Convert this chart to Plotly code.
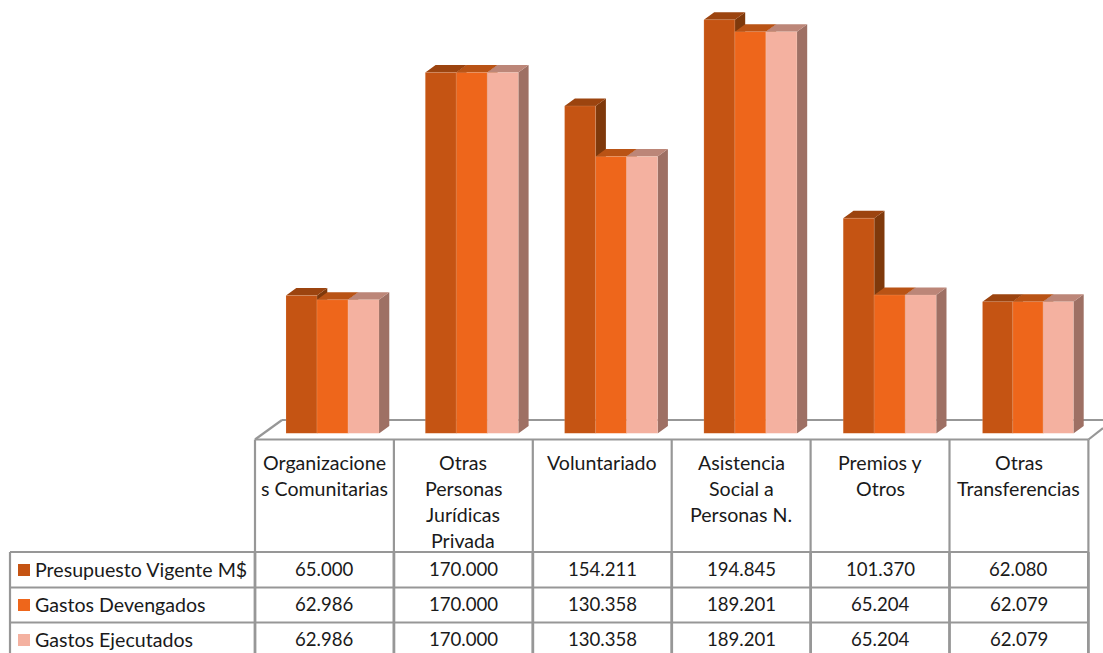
import plotly.graph_objects as go

categories = ["Organizacione<br>s Comunitarias", "Otras<br>Personas<br>Jurídicas<br>Privada", "Voluntariado",
              "Asistencia<br>Social a<br>Personas N.", "Premios y<br>Otros", "Otras<br>Transferencias"]
series_names = ["Presupuesto Vigente M$", "Gastos Devengados", "Gastos Ejecutados"]
presupuesto = [65000, 170000, 154211, 194845, 101370, 62080]
devengados = [62986, 170000, 130358, 189201, 65204, 62079]
ejecutados = [62986, 170000, 130358, 189201, 65204, 62079]
all_series = [presupuesto, devengados, ejecutados]

front_colors = ["#C55413", "#EE661B", "#F4B1A0"]
top_colors = ["#9C440F", "#B95315", "#BC8678"]
side_colors = ["#7F390B", "#A34A12", "#9E7064"]

W, H = 1103, 653
FONT = "Lato"
GRID = "#979797"
FS_LABEL = 19.6
FS_NUM = 18.6

def px(x): return x / W
def py(y): return 1 - y / H

step = 139.3
base_y, top_y = 433.5, 8.7
y_max = 200000
unit = (base_y - top_y) / y_max
left = 332.5 - step / 2
right = left + 6 * step
bar_w = 31 / step
bar_widths = [bar_w] * 5 + [30.3 / step]
depth_x = 10.3 / step
depth_y = 7.5 / unit

fig = go.Figure()

# depth faces of the 3-D columns, computed from the data values
for s, vals in enumerate(all_series):
    sx, sy, tx, ty = [], [], [], []
    for j, v in enumerate(vals):
        x0 = j - 1.5 * bar_w + s * bar_widths[j]
        x1 = x0 + bar_widths[j]
        sx += [x1, x1 + depth_x, x1 + depth_x, x1, x1, None]
        sy += [0, depth_y, v + depth_y, v, 0, None]
        tx += [x0, x0 + depth_x, x1 + depth_x, x1, x0, None]
        ty += [v, v + depth_y, v + depth_y, v, v, None]
    for xs, ys, col in ((sx, sy, side_colors[s]), (tx, ty, top_colors[s])):
        fig.add_trace(go.Scatter(x=xs, y=ys, mode="lines", fill="toself", fillcolor=col,
                                 line=dict(width=0, color=col), hoverinfo="skip", showlegend=False,
                                 xaxis="x", yaxis="y"))

# front faces
for s, (name, vals, col) in enumerate(zip(series_names, all_series, front_colors)):
    fig.add_trace(go.Bar(x=categories, y=vals, name=name,
                         width=bar_widths,
                         offset=[-1.5 * bar_w + s * w for w in bar_widths],
                         marker=dict(color=col, line=dict(width=0.5, color="rgba(255,225,205,0.3)")),
                         showlegend=False, xaxis="x2", yaxis="y2"))

ax_common = dict(domain=[px(left), px(right)], range=[-0.5, 5.5], visible=False, fixedrange=True)
ay_common = dict(domain=[py(base_y), py(top_y)], range=[0, y_max], visible=False, fixedrange=True)

shapes = []
def line(x0, y0, x1, y1, w=2.2):
    shapes.append(dict(type="line", xref="paper", yref="paper", x0=px(x0), y0=py(y0), x1=px(x1), y1=py(y1),
                       line=dict(color=GRID, width=w), layer="below"))

# floor
line(255, 439.5, 282, 420)
line(282, 420, 1103, 420)
line(255, 439.5, 1088.5, 439.5)
line(1088.5, 439.5, 1103, 428)

# data table grid
cols = [255 + i * 138.9 for i in range(7)]
for c in cols:
    line(c, 439.5, c, 552)
    line(c, 552, c, 653, 2.8)
line(10, 552, 1088.5, 552)
line(10, 587.5, 1088.5, 587.5)
line(10, 622.5, 1088.5, 622.5)
line(10, 552, 10, 653)

rows = [569, 604, 639]
annotations = []
def text(x, y, s, size, anchor="center"):
    annotations.append(dict(xref="paper", yref="paper", x=px(x), y=py(y), text=s, showarrow=False,
                            xanchor=anchor, yanchor="middle", align="center",
                            font=dict(family=FONT, size=size, color="#1a1a1a")))

for j, cat in enumerate(categories):
    cx = (cols[j] + cols[j + 1]) / 2
    for k, part in enumerate(cat.split("<br>")):
        text(cx, 462 + 26 * k, part, FS_LABEL)

for s, (name, vals, col) in enumerate(zip(series_names, all_series, front_colors)):
    y = rows[s]
    shapes.append(dict(type="rect", xref="paper", yref="paper", x0=px(18), x1=px(30), y0=py(y - 5), y1=py(y + 7),
                       fillcolor=col, line=dict(width=0), layer="below"))
    text(33, y, name, FS_LABEL, anchor="left")
    for j, v in enumerate(vals):
        text((cols[j] + cols[j + 1]) / 2, y, f"{v:,}".replace(",", "."), FS_NUM)

fig.update_layout(
    width=W, height=H, margin=dict(l=0, r=0, t=0, b=0), autosize=False,
    paper_bgcolor="white", plot_bgcolor="rgba(0,0,0,0)",
    barmode="overlay",
    xaxis=dict(type="linear", **ax_common),
    yaxis=dict(**ay_common),
    xaxis2=dict(type="category", overlaying="x", **ax_common),
    yaxis2=dict(overlaying="y", **ay_common),
    shapes=shapes, annotations=annotations, showlegend=False,
)

fig.write_html("out.html", config={"displayModeBar": False},
               post_script="document.body.style.margin='0';document.documentElement.style.overflow='hidden';")
